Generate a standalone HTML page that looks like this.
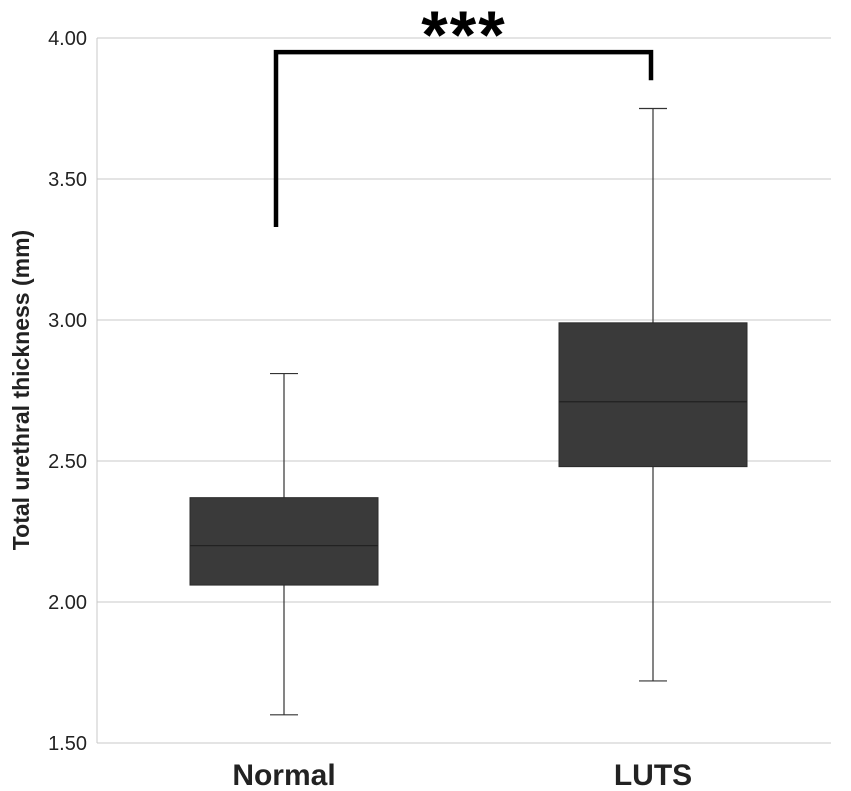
<!DOCTYPE html>
<html><head><meta charset="utf-8"><style>
html,body{margin:0;padding:0;background:#fff;}
svg{display:block;font-family:"Liberation Sans",sans-serif;}
</style></head><body>
<svg id="chart" width="851" height="791" xmlns="http://www.w3.org/2000/svg"></svg>
<script>
const categories = ["Normal", "LUTS"];
const mins = [1.60, 1.72];
const q1s = [2.06, 2.48];
const medians = [2.20, 2.71];
const q3s = [2.37, 2.99];
const maxs = [2.81, 3.75];
const yTicks = [1.50, 2.00, 2.50, 3.00, 3.50, 4.00];
const bracketLeftValue = 3.33;
const bracketRightValue = 3.85;
const bracketTopValue = 3.95;

const NS = "http://www.w3.org/2000/svg";
const svg = document.getElementById('chart');
const L = 97, R = 831, T = 38, B = 743, yMin = 1.5, yMax = 4.0;
const y = v => B - (v - yMin) / (yMax - yMin) * (B - T);
const xc = i => 284 + i * 369;
const bw = 188;
function mk(tag, attrs, parent) {
  const e = document.createElementNS(NS, tag);
  for (const k in attrs) e.setAttribute(k, attrs[k]);
  (parent || svg).appendChild(e);
  return e;
}
yTicks.forEach(t => {
  const g = mk('line', {x1: L, x2: R, y1: y(t), y2: y(t), stroke: '#c8c8c8', 'stroke-width': 1});
  
  
  const lb = mk('text', {x: 87, y: y(t) + 7, 'text-anchor': 'end', 'font-size': 20, fill: '#222'});
  lb.textContent = t.toFixed(2);
  
  
});
const ax = mk('line', {x1: L, x2: L, y1: T, y2: B, stroke: '#c8c8c8', 'stroke-width': 1});


const yt = mk('text', {x: 0, y: 0, transform: 'translate(29,390) rotate(-90)', 'text-anchor': 'middle', 'font-size': 23, 'font-weight': 'bold', fill: '#222'});
yt.textContent = 'Total urethral thickness (mm)';


categories.forEach((c, i) => {
  const cx = xc(i);
  const g = mk('g', {});
  
  
  mk('line', {x1: cx, x2: cx, y1: y(maxs[i]), y2: y(q3s[i]), stroke: '#333', 'stroke-width': 1.2}, g);
  mk('line', {x1: cx, x2: cx, y1: y(q1s[i]), y2: y(mins[i]), stroke: '#333', 'stroke-width': 1.2}, g);
  mk('line', {x1: cx - 14, x2: cx + 14, y1: y(maxs[i]), y2: y(maxs[i]), stroke: '#333', 'stroke-width': 1.2}, g);
  mk('line', {x1: cx - 14, x2: cx + 14, y1: y(mins[i]), y2: y(mins[i]), stroke: '#333', 'stroke-width': 1.2}, g);
  mk('rect', {x: cx - bw / 2, y: y(q3s[i]), width: bw, height: y(q1s[i]) - y(q3s[i]), fill: '#3a3a3a', stroke: '#2a2a2a', 'stroke-width': 1}, g);
  mk('line', {x1: cx - bw / 2, x2: cx + bw / 2, y1: y(medians[i]), y2: y(medians[i]), stroke: '#222', 'stroke-width': 1.2}, g);
  const lb = mk('text', {x: cx, y: 785, 'text-anchor': 'middle', 'font-size': 30, 'font-weight': 'bold', fill: '#222'});
  lb.textContent = c;
  
  
});
const br = mk('polyline', {points: `${xc(0)-8},${y(bracketLeftValue)} ${xc(0)-8},${y(bracketTopValue)} ${xc(1)-2},${y(bracketTopValue)} ${xc(1)-2},${y(bracketRightValue)}`, fill: 'none', stroke: '#000', 'stroke-width': 4.5});


const st = mk('text', {x: 464, y: 58, 'text-anchor': 'middle', 'font-size': 68, 'font-weight': 'bold', 'letter-spacing': '2', fill: '#000'});
st.textContent = '***';


</script>
</body></html>
